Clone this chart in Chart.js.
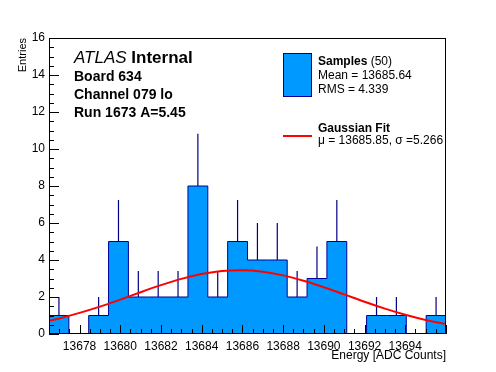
<!DOCTYPE html>
<html><head><meta charset="utf-8">
<script src="https://cdn.jsdelivr.net/npm/chart.js@4"></script>
<style>html,body{margin:0;padding:0;background:#fff;}canvas{display:block;}</style>
</head><body>
<canvas id="c" width="496" height="372"></canvas>
<script>
// ---- data ----
const binLow = 13676.5;
const binWidth = 0.975;
const counts = [1,0,1,5,2,2,2,8,2,5,4,4,2,3,5,0,1,1,0,1];
const errors = [1,0,1,2.24,1.41,1.41,1.41,2.83,1.41,2.24,2,2,1.41,1.73,2.24,0,1,1,0,1];
const fitX = [13676.5,13677,13678,13679,13680,13681,13682,13683,13684,13685,13686,13687,13688,13689,13690,13691,13692,13693,13694,13695,13696];
const fitY = [0.71,0.84,1.14,1.48,1.86,2.26,2.64,2.98,3.24,3.41,3.45,3.37,3.17,2.88,2.53,2.14,1.74,1.37,1.04,0.76,0.54];
const xTicks = [13678,13680,13682,13684,13686,13688,13690,13692,13694];
const yTicks = [0,2,4,6,8,10,12,14,16];
const xRange = [13676.5, 13696];
const yRange = [0, 16];
const xTitle = 'Energy [ADC Counts]';
const yTitle = 'Entries';
const infoLines = ['Board 634','Channel 079 lo','Run 1673 A=5.45'];
const nSamples = 50;
const statMean = '13685.64';
const statRMS = '4.339';
const fitMu = '13685.85';
const fitSigma = '5.266';

const FONT = '"Liberation Sans", Arial, Helvetica, sans-serif';
const FILL = 'rgb(0,153,255)';
const NAVY = 'rgb(0,0,153)';
const RED = 'rgb(255,0,0)';

const histPts = counts.map((n,i)=>({x: binLow + i*binWidth, y: n}));
histPts.push({x: binLow + counts.length*binWidth, y: counts[counts.length-1]});
const errPts = [];
counts.forEach((n,i)=>{
  if (n > 0) {
    const cx = binLow + (i+0.5)*binWidth;
    errPts.push({x: cx, y: n - errors[i]}, {x: cx, y: n + errors[i]}, {x: cx, y: null});
  }
});
const fitPts = fitX.map((v,i)=>({x: v, y: fitY[i]}));

function crisp(v){ return Math.round(v) + 0.5; }

const rootStyle = {
  id: 'rootStyle',
  afterDatasetsDraw(chart){
    const {ctx, chartArea: a, scales: {x, y}} = chart;
    ctx.save();
    ctx.strokeStyle = '#000';
    ctx.lineWidth = 1;
    ctx.beginPath();
    const xs = xTicks[1]-xTicks[0], xm = xs/4;
    let v0 = xTicks[0]; while (v0 - xm >= x.min - 1e-9) v0 -= xm;
    for (let v = v0; v <= x.max + 1e-9; v += xm) {
      const r = (v - xTicks[0]) / xs;
      const major = Math.abs(r - Math.round(r)) < 1e-6;
      const px = crisp(x.getPixelForValue(v));
      ctx.moveTo(px, a.bottom); ctx.lineTo(px, a.bottom - (major ? 9 : 5));
    }
    const ys = yTicks[1]-yTicks[0], ym = ys/4;
    for (let v = y.min; v <= y.max + 1e-9; v += ym) {
      const r = (v - yTicks[0]) / ys;
      const major = Math.abs(r - Math.round(r)) < 1e-6;
      const py = crisp(y.getPixelForValue(v));
      ctx.moveTo(a.left, py); ctx.lineTo(a.left + (major ? 10 : 5), py);
    }
    ctx.stroke();
    ctx.strokeRect(a.left + 0.5, a.top + 0.5, a.right - a.left - 1, a.bottom - a.top - 1);
    ctx.restore();
  },
  afterDraw(chart){
    const {ctx, chartArea: a} = chart;
    ctx.save();
    ctx.fillStyle = '#000';
    ctx.font = '12px ' + FONT;
    ctx.textAlign = 'right'; ctx.textBaseline = 'alphabetic';
    ctx.fillText(xTitle, a.right, 359);
    ctx.save();
    ctx.translate(26, a.top);
    ctx.rotate(-Math.PI/2);
    ctx.font = '11px ' + FONT;
    ctx.textAlign = 'right';
    ctx.fillText(yTitle, 0, 0);
    ctx.restore();
    ctx.textAlign = 'left';
    ctx.font = 'italic 17px ' + FONT;
    ctx.fillText('ATLAS', 74, 63);
    const w = ctx.measureText('ATLAS ').width;
    ctx.font = 'bold 17px ' + FONT;
    ctx.fillText('Internal', 74 + w, 63);
    ctx.font = 'bold 14px ' + FONT;
    infoLines.forEach((t,i)=> ctx.fillText(t, 74, 81 + i*18));
    ctx.fillStyle = FILL;
    ctx.fillRect(283.5, 53.5, 28, 43);
    ctx.strokeStyle = NAVY; ctx.lineWidth = 1;
    ctx.strokeRect(283.5, 53.5, 28, 43);
    ctx.strokeStyle = RED; ctx.lineWidth = 2;
    ctx.beginPath(); ctx.moveTo(283, 136); ctx.lineTo(312, 136); ctx.stroke();
    ctx.fillStyle = '#000';
    ctx.font = 'bold 12px ' + FONT;
    ctx.fillText('Samples', 318, 65);
    const ws = ctx.measureText('Samples').width;
    ctx.font = '12px ' + FONT;
    ctx.fillText(' (' + nSamples + ')', 318 + ws, 65);
    ctx.fillText('Mean = ' + statMean, 318, 79);
    ctx.fillText('RMS = ' + statRMS, 318, 93);
    ctx.font = 'bold 12px ' + FONT;
    ctx.fillText('Gaussian Fit', 318, 132);
    ctx.font = '12px ' + FONT;
    ctx.fillText('\u03bc = ' + fitMu + ', \u03c3 =' + fitSigma, 318, 144);
    ctx.restore();
  }
};

new Chart(document.getElementById('c'), {
  type: 'line',
  data: {
    datasets: [
      { label: 'Gaussian Fit', data: fitPts, borderColor: RED, borderWidth: 2, pointRadius: 0,
        fill: false, cubicInterpolationMode: 'monotone', order: 1 },
      { label: 'Samples', data: histPts, stepped: true, borderColor: NAVY, borderWidth: 1,
        backgroundColor: FILL, fill: 'origin', pointRadius: 0, order: 2 },
      { label: 'errors', data: errPts, borderColor: 'rgb(0,0,130)', borderWidth: 1.2, pointRadius: 0,
        fill: false, spanGaps: false, order: 3 }
    ]
  },
  options: {
    responsive: false,
    animation: false,
    devicePixelRatio: 1,
    layout: { padding: { top: 38, right: 50, left: 0, bottom: 0 } },
    plugins: { legend: { display: false }, tooltip: { enabled: false } },
    scales: {
      x: {
        type: 'linear', min: xRange[0], max: xRange[1],
        grid: { display: false, drawTicks: false }, border: { display: false },
        afterBuildTicks: s => { s.ticks = xTicks.map(v => ({value: v})); },
        afterFit: s => { s.height = 38; s.paddingLeft = 0; s.paddingRight = 0; },
        ticks: { autoSkip: false, maxRotation: 0, minRotation: 0, padding: 5, color: '#000',
          font: { family: FONT, size: 12 }, callback: v => String(v) }
      },
      y: {
        type: 'linear', min: yRange[0], max: yRange[1],
        grid: { display: false, drawTicks: false }, border: { display: false },
        afterBuildTicks: s => { s.ticks = yTicks.map(v => ({value: v})); },
        afterFit: s => { s.width = 49; s.paddingTop = 0; s.paddingBottom = 0; },
        ticks: { autoSkip: false, padding: 4, color: '#000',
          font: { family: FONT, size: 12 }, callback: v => String(v) }
      }
    }
  },
  plugins: [rootStyle]
});
</script>
</body></html>
